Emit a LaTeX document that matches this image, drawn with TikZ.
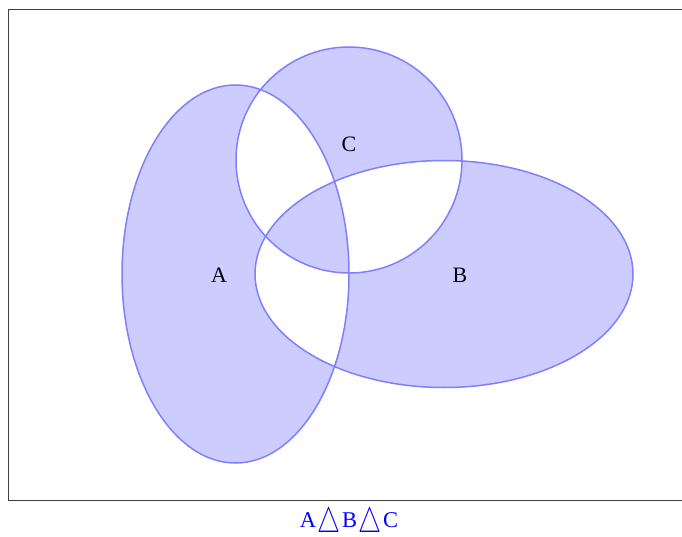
\documentclass[tikz,border=0pt]{standalone}
\usepackage{fontspec}
\usepackage{graphicx}
\setmainfont{Liberation Serif}

\newcommand{\symdiff}{\kern1.5pt\raisebox{-0.22em}{\scalebox{1.25}[1.7]{$\bigtriangleup$}}\kern1.5pt}

\begin{document}
\begin{tikzpicture}[x=1pt, y=-1pt]
    \useasboundingbox (0,0) rectangle (682,537);
    % Frame (runs off on the right)
    \draw[black!75, line width=1pt] (684,9.5) -- (8.5,9.5) -- (8.5,500.5) -- (684,500.5);

    % Odd regions: exactly one set, or all three
    \fill[blue!20, even odd rule]
        (235.5,274) ellipse [x radius=113.5, y radius=189]
        (444,274) ellipse [x radius=189, y radius=113.5]
        (349,160) circle [radius=113];

    % Outlines
    \draw[blue!50, line width=1.5pt] (235.5,274) ellipse [x radius=113.5, y radius=189];
    \draw[blue!50, line width=1.5pt] (444,274) ellipse [x radius=189, y radius=113.5];
    \draw[blue!50, line width=1.5pt] (349,160) circle [radius=113];

    % Set names
    \node[font=\fontsize{22}{24}\selectfont] (labelA) at (219,275) {A};
    \node[font=\fontsize{22}{24}\selectfont] (labelB) at (460,275) {B};
    \node[font=\fontsize{22}{24}\selectfont] (labelC) at (349,144) {C};

    % Caption
    \node[blue, font=\fontsize{22.5}{25}\selectfont] (caption) at (349,524)
        {A\symdiff B\symdiff C};
\end{tikzpicture}
\end{document}
